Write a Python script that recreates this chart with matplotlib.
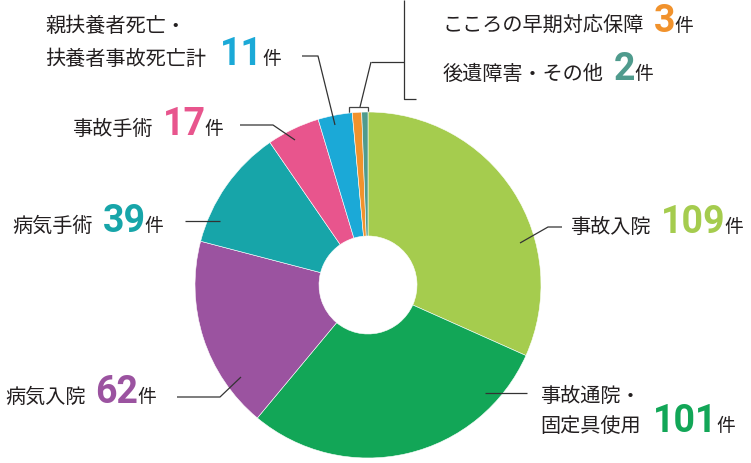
import matplotlib
matplotlib.use("Agg")
import matplotlib.pyplot as plt
from matplotlib.patches import Rectangle

# ── data ─────────────────────────────────────────────────────────────────────
labels = ["事故入院", "事故通院・\n固定具使用", "病気入院", "病気手術", "事故手術",
          "親扶養者死亡・\n扶養者事故死亡計", "こころの早期対応保障", "後遺障害・その他"]
counts = [109, 101, 62, 39, 17, 11, 3, 2]
colors = ["#a5cc4e", "#12a657", "#9b53a0", "#17a5a9", "#e8558d", "#1ba9d7", "#f1922c", "#4f9b8d"]

plt.rcParams["font.family"] = ["Noto Sans CJK JP", "DejaVu Sans"]

W, H = 751, 463
fig = plt.figure(figsize=(W / 100, H / 100), dpi=100)
ax = fig.add_axes([0, 0, 1, 1])

cx, cy, R, r_hole = 368, H - 285, 173, 49

# small box round the two thin slices (drawn under the pie)
ax.add_patch(Rectangle((349, H - 122), 19, 15, facecolor="white",
                       edgecolor="#444444", linewidth=0.9, zorder=0))

ax.pie(counts, colors=colors, startangle=90, counterclock=False,
       center=(cx, cy), radius=R,
       wedgeprops=dict(width=R - r_hole, edgecolor="white", linewidth=0.4))

ax.set_xlim(0, W)
ax.set_ylim(0, H)
ax.set_aspect("equal")
ax.axis("off")

LC = "#333333"


def line(xs, ys):
    ax.plot(xs, [H - y for y in ys], color=LC, linewidth=0.9, zorder=5,
            solid_capstyle="butt")


# leader lines (pixel positions, y from top)
line([371, 360], [62, 107])                 # box -> bracket
line([371, 404], [62, 62])
line([404, 404, 416], [0, 99, 99])          # bracket
line([302, 318, 335], [56, 56, 125])        # 11
line([240, 273, 295], [125, 125, 140])      # 17
line([185, 220], [221, 221])                # 39
line([177, 220, 241], [397, 397, 377])      # 62
line([520, 548, 562], [243, 227, 227])      # 109
line([485, 527], [393, 393])                # 101

renderer = fig.canvas.get_renderer()
TXT = "#231f20"


def label(x, y, text, idx, gap=10):
    # y is baseline in pixels from the top
    t = ax.text(x, H - y, text, fontsize=14.5, color=TXT, va="baseline", ha="left")
    x_end = t.get_window_extent(renderer).x1 + gap
    n = ax.text(x_end, H - y, str(counts[idx]), fontsize=27, color=colors[idx],
                fontweight="bold", family="Roboto", va="baseline", ha="left")
    x_end = n.get_window_extent(renderer).x1 - 1
    ax.text(x_end, H - y, "件", fontsize=13.5, color=TXT, va="baseline", ha="left")


label(443, 32, labels[6], 6)
label(443, 80, labels[7], 7)
ax.text(45, H - 32, labels[5].split("\n")[0], fontsize=14.5, color=TXT, va="baseline")
label(45, 65, labels[5].split("\n")[1], 5, gap=14)
label(72, 135, labels[4], 4)
label(12, 232, labels[3], 3)
label(5, 403, labels[2], 2)
label(570, 233, labels[0], 0)
ax.text(540, H - 402, labels[1].split("\n")[0], fontsize=14.5, color=TXT, va="baseline")
label(540, 432, labels[1].split("\n")[1], 1, gap=12)

fig.savefig("out.png", dpi=100)
